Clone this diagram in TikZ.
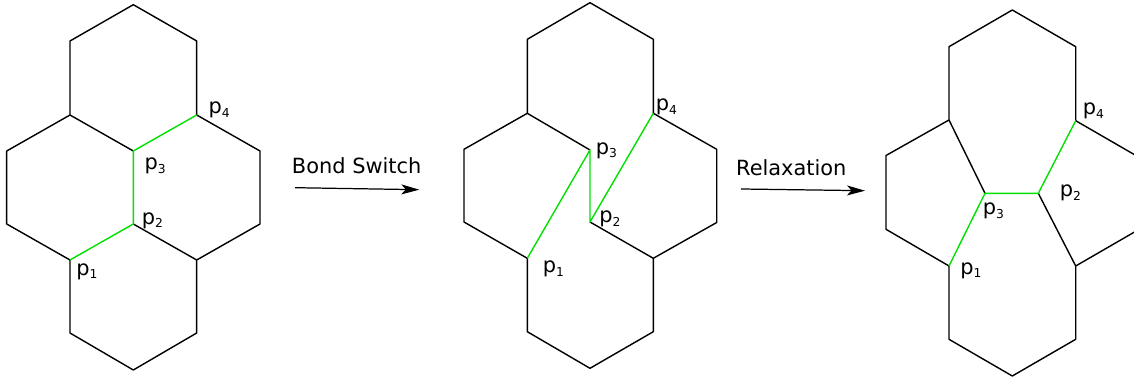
\documentclass[tikz,border=0pt]{standalone}
\usepackage{fontspec}
\setmainfont{DejaVu Sans}
\usetikzlibrary{positioning,arrows.meta}
\definecolor{bondgreen}{RGB}{0,225,0}
\newcommand{\site}[1]{p\raisebox{-2pt}{\fontsize{7pt}{8pt}\selectfont #1}}

\begin{document}
\begin{tikzpicture}[x=0.02cm, y=-0.02cm,
    font=\fontsize{11.9pt}{14pt}\selectfont,
    bond/.style={line width=0.8pt, line join=round},
    switched/.style={bond, bondgreen},
    lbl/.style={anchor=base west, inner sep=0pt},
    caption/.style={anchor=base, inner sep=0pt},
    process/.style={-{Stealth[length=0.36cm, width=0.2cm, inset=0.09cm]}, line width=0.7pt},
  ]
  \useasboundingbox (0,0) rectangle (1134,378);
  \clip (0,0) rectangle (1134,378);

  % before the switch
  \coordinate (a-t) at (133.3,4.7);
  \coordinate (a-nw) at (70,41);
  \coordinate (a-ne) at (196.7,41);
  \coordinate (a-jl) at (70,115);
  \coordinate (a-p4) at (196.7,115);
  \coordinate (a-p3) at (133.3,151);
  \coordinate (a-w1) at (6.7,151);
  \coordinate (a-w2) at (6.7,224);
  \coordinate (a-e1) at (260,151);
  \coordinate (a-e2) at (260,224);
  \coordinate (a-p2) at (133.3,224);
  \coordinate (a-p1) at (70,260);
  \coordinate (a-jr) at (196.7,260);
  \coordinate (a-sw) at (70,333);
  \coordinate (a-se) at (196.7,333);
  \coordinate (a-b) at (133.3,370);
  \draw[bond] (a-jl) -- (a-nw) -- (a-t) -- (a-ne) -- (a-p4);
  \draw[bond] (a-jl) -- (a-p3);
  \draw[bond] (a-jl) -- (a-w1) -- (a-w2) -- (a-p1) -- (a-sw) -- (a-b) -- (a-se) -- (a-jr);
  \draw[bond] (a-p4) -- (a-e1) -- (a-e2) -- (a-jr) -- (a-p2);
  \draw[switched] (a-p4) -- (a-p3) -- (a-p2) -- (a-p1);
  \node[lbl] (a-l4) at (208.2,113.7) {\site{4}};
  \node[lbl] (a-l3) at (144.2,170) {\site{3}};
  \node[lbl] (a-l2) at (141.5,224.3) {\site{2}};
  \node[lbl] (a-l1) at (75.9,275.3) {\site{1}};

  % after the switch
  \coordinate (b-t) at (590,2.7);
  \coordinate (b-nw) at (527.3,39.3);
  \coordinate (b-ne) at (653.3,39.3);
  \coordinate (b-jl) at (527.3,113.3);
  \coordinate (b-p4) at (653.3,113.3);
  \coordinate (b-p3) at (590,150);
  \coordinate (b-w1) at (464,149.3);
  \coordinate (b-w2) at (464,222);
  \coordinate (b-e1) at (716.7,149.3);
  \coordinate (b-e2) at (716.7,222.5);
  \coordinate (b-p2) at (590,222);
  \coordinate (b-p1) at (527.3,258.3);
  \coordinate (b-jr) at (653.3,258.3);
  \coordinate (b-sw) at (527.3,331.7);
  \coordinate (b-se) at (653.3,331.7);
  \coordinate (b-b) at (590,368.3);
  \draw[bond] (b-jl) -- (b-nw) -- (b-t) -- (b-ne) -- (b-p4);
  \draw[bond] (b-jl) -- (b-p3);
  \draw[bond] (b-jl) -- (b-w1) -- (b-w2) -- (b-p1) -- (b-sw) -- (b-b) -- (b-se) -- (b-jr);
  \draw[bond] (b-p4) -- (b-e1) -- (b-e2) -- (b-jr) -- (b-p2);
  \draw[switched] (b-p1) -- (b-p3) -- (b-p2) -- (b-p4);
  \node[lbl] (b-l4) at (655.5,111) {\site{4}};
  \node[lbl] (b-l3) at (595.5,154.3) {\site{3}};
  \node[lbl] (b-l2) at (598.9,222.7) {\site{2}};
  \node[lbl] (b-l1) at (542.5,272.7) {\site{1}};

  % relaxed
  \coordinate (c-t) at (1012.3,10);
  \coordinate (c-nw) at (949,46.7);
  \coordinate (c-ne) at (1075.7,46.7);
  \coordinate (c-jl) at (949,120);
  \coordinate (c-p4) at (1075.7,120.7);
  \coordinate (c-p3) at (985,193.3);
  \coordinate (c-p2) at (1038.3,193.3);
  \coordinate (c-w1) at (886,155.5);
  \coordinate (c-w2) at (886,229.3);
  \coordinate (c-e1) at (1139,157.3);
  \coordinate (c-e2) at (1139,229.4);
  \coordinate (c-p1) at (949,266);
  \coordinate (c-jr) at (1075.7,266);
  \coordinate (c-sw) at (949,339.3);
  \coordinate (c-se) at (1075.7,339.3);
  \coordinate (c-b) at (1012.3,376);
  \draw[bond] (c-jl) -- (c-nw) -- (c-t) -- (c-ne) -- (c-p4);
  \draw[bond] (c-jl) -- (c-p3);
  \draw[bond] (c-jl) -- (c-w1) -- (c-w2) -- (c-p1) -- (c-sw) -- (c-b) -- (c-se) -- (c-jr);
  \draw[bond] (c-p4) -- (c-e1) -- (c-e2) -- (c-jr) -- (c-p2);
  \draw[switched] (c-p1) -- (c-p3) -- (c-p2) -- (c-p4);
  \node[lbl] (c-l4) at (1082.4,115) {\site{4}};
  \node[lbl] (c-l3) at (982.5,215) {\site{3}};
  \node[lbl] (c-l2) at (1059.4,197) {\site{2}};
  \node[lbl] (c-l1) at (959.9,274.3) {\site{1}};

  \node[caption] (switch) at (356.7,173.5) {Bond Switch};
  \coordinate (switch-from) at (295,187.7);
  \coordinate (switch-to) at (419.3,189.7);
  \draw[process] (switch-from) -- (switch-to);

  \node[caption] (relax) at (791.3,176) {Relaxation};
  \coordinate (relax-from) at (741,189);
  \coordinate (relax-to) at (865,190.7);
  \draw[process] (relax-from) -- (relax-to);
\end{tikzpicture}
\end{document}
